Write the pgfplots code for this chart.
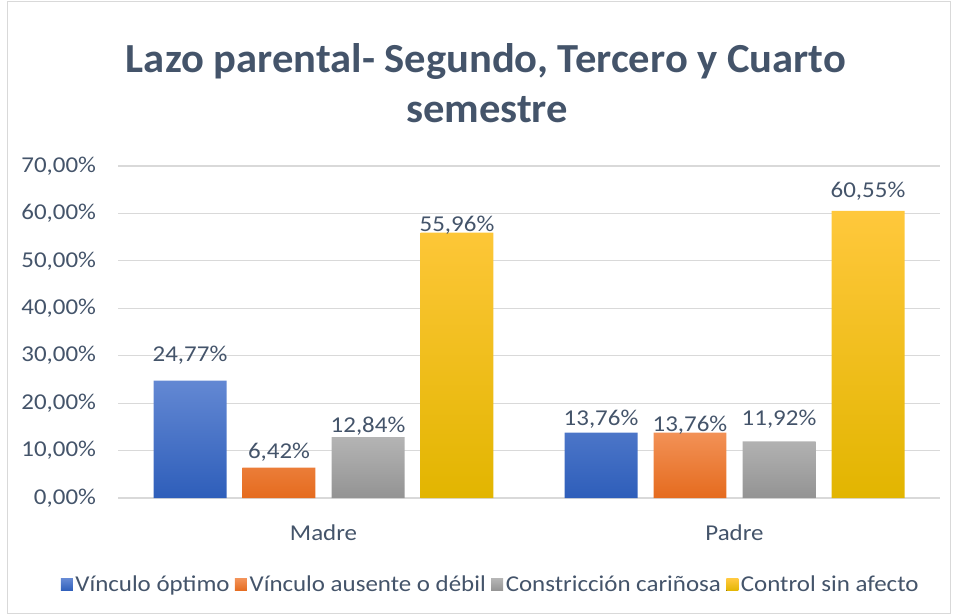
\documentclass[border=0pt]{standalone}
\usepackage{fontspec}
\setmainfont{Carlito}[FakeStretch=1.1]
\newfontfamily\titlefont{Carlito}[FakeStretch=1.03]
\usepackage{pgfplots}
\usepackage{pgfplotstable}
\pgfplotsset{compat=1.18}

\definecolor{txt}{HTML}{44546A}
\definecolor{gridc}{HTML}{D9D9D9}
\definecolor{blueT}{HTML}{6388D3}
\definecolor{blueB}{HTML}{2E5EBA}
\definecolor{oranT}{HTML}{F29156}
\definecolor{oranB}{HTML}{E56B1E}
\definecolor{grayT}{HTML}{B4B4B4}
\definecolor{grayB}{HTML}{939393}
\definecolor{goldT}{HTML}{FFC83C}
\definecolor{goldB}{HTML}{E2B500}

% x: group, y: percent, s: label lift (pt)
\pgfplotstableread{
x y s
0 24.77 19.3
1 13.76 10.1
}\optimo
\pgfplotstableread{
x y s
0 6.42 11.6
1 13.76 5.3
}\ausente
\pgfplotstableread{
x y s
0 12.84 8.3
1 11.92 17.0
}\constriccion
\pgfplotstableread{
x y s
0 55.96 5.5
1 60.55 14.5
}\control

\begin{document}
\begin{tikzpicture}
\useasboundingbox (0,0) rectangle (716.25pt,461.25pt);
\draw[gridc, line width=0.75pt] (5.25pt,1.5pt) rectangle (712.5pt,459.75pt);
\node[font=\titlefont\bfseries\fontsize{31}{37}\selectfont, text=txt] at (364.5pt,415pt) {Lazo parental- Segundo, Tercero y Cuarto};
\node[font=\titlefont\bfseries\fontsize{31}{37}\selectfont, text=txt] at (365.25pt,379pt) {semestre};
\begin{axis}[
    anchor=south west, at={(88.5pt,87.75pt)},
    scale only axis, width=616.5pt, height=249pt,
    xmin=-0.5, xmax=1.5, ymin=0, ymax=70,
    xtick={0,1}, xticklabels={Madre,Padre},
    ytick={0,10,...,70},
    ymajorgrids, grid style={draw=gridc, line width=0.9pt},
    axis line style={draw=none},
    major tick length=0pt,
    /pgf/number format/assume math mode=true,
    ticklabel style={font=\fontsize{17}{20}\selectfont, text=txt},
    yticklabel={\pgfmathprintnumber[fixed,fixed zerofill,precision=2,use comma]{\tick}\%},
    yticklabel style={xshift=-13pt},
    xticklabel style={yshift=-16.5pt},
    ybar, bar width=0.1776,
    nodes near coords={\pgfmathprintnumber[fixed,fixed zerofill,precision=2,use comma]{\pgfplotspointmeta}\%},
    visualization depends on={\thisrow{s}\as\labshift},
    nodes near coords style={anchor=center, yshift=\labshift pt, font=\fontsize{17}{20}\selectfont, text=txt},
    legend columns=4,
    legend cell align=left,
    legend image code/.code={\fill[#1] (-2pt,-4.5pt) rectangle (7pt,4.5pt);},
    legend style={at={(0.4538,-0.262)}, anchor=center, draw=none, fill=none,
        font=\fontsize{17}{20}\selectfont, text=txt,
        /tikz/every even column/.append style={column sep=2pt}},
]
\addplot[draw=none, bar shift=-0.3248, top color=blueT, bottom color=blueB] table[x=x,y=y]{\optimo};
\addlegendentry{Vínculo óptimo}
\addplot[draw=none, bar shift=-0.1083, top color=oranT, bottom color=oranB] table[x=x,y=y]{\ausente};
\addlegendentry{Vínculo ausente o débil}
\addplot[draw=none, bar shift=0.1083, top color=grayT, bottom color=grayB] table[x=x,y=y]{\constriccion};
\addlegendentry{Constricción cariñosa}
\addplot[draw=none, bar shift=0.3248, top color=goldT, bottom color=goldB] table[x=x,y=y]{\control};
\addlegendentry{Control sin afecto}
\end{axis}
\end{tikzpicture}
\end{document}
